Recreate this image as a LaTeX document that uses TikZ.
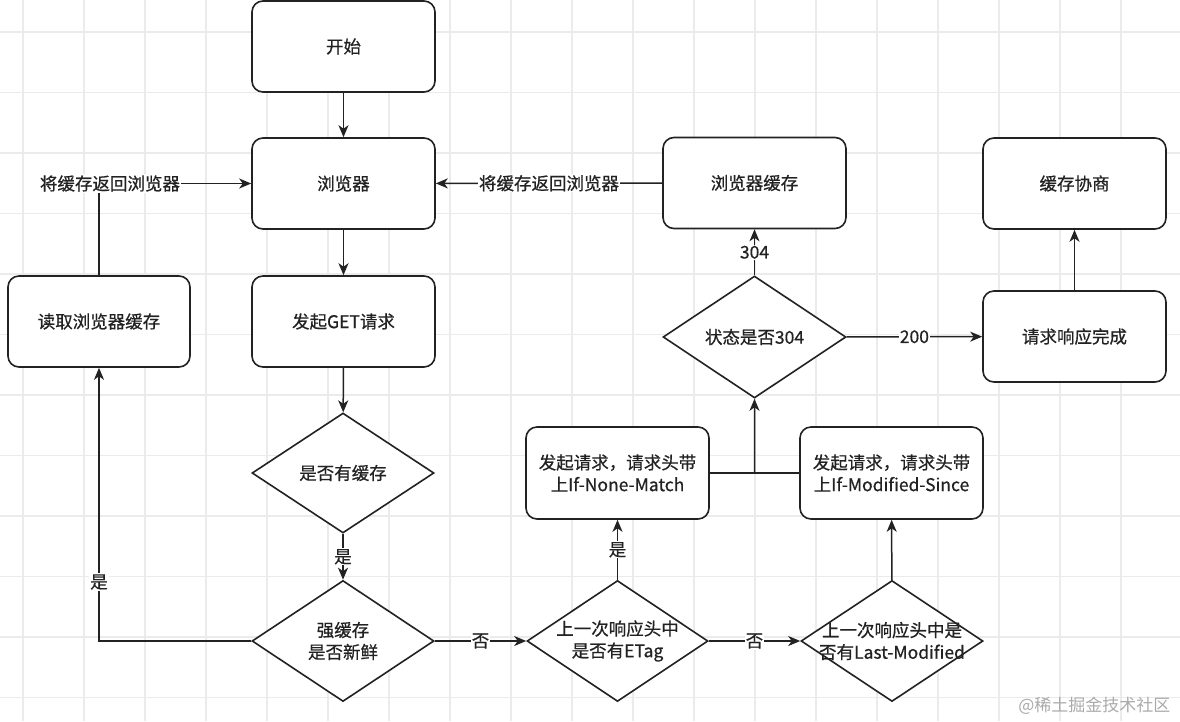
\documentclass[tikz,border=0pt]{standalone}
\usepackage{fontspec}
\setmainfont{Noto Sans CJK SC}[FakeBold=0.6]
\newfontfamily\wmfont{Noto Sans CJK SC}
\usetikzlibrary{arrows.meta,shapes.geometric,calc}
\definecolor{ink}{HTML}{222222}
\definecolor{gridc}{HTML}{EBEBEB}
\definecolor{wm}{HTML}{AAAAAA}
\begin{document}
\begin{tikzpicture}[x=1pt,y=-1pt,
  every node/.style={font=\fontsize{17.5}{22}\selectfont, text=ink},
  rbox/.style={draw=ink, line width=1.6pt, rounded corners=11pt, minimum width=183pt, minimum height=91pt, align=center, fill=white},
  dia/.style={draw=ink, line width=1.6pt, diamond, minimum width=182pt, minimum height=121pt, inner sep=0pt, fill=white},
  dtext/.style={align=center},
  arr/.style={draw=ink, line width=1.5pt, -{Stealth[length=12pt,width=10pt,inset=3.5pt]}},
  ln/.style={draw=ink, line width=1.5pt},
  lbl/.style={fill=white, inner sep=1pt}]
\useasboundingbox (0,0) rectangle (1180,721);
\fill[white] (0,0) rectangle (1180,721);
\foreach \i in {0,...,19} \draw[gridc, line width=1.2pt] ({23+61*\i},0) -- ({23+61*\i},721);
\foreach \j in {0,...,11} \draw[gridc, line width=1.2pt] (0,{32+60.5*\j}) -- (1180,{32+60.5*\j});

% boxes
\node[rbox] (start) at (343.5,46.5) {开始};
\node[rbox] (browser) at (343.5,183.5) {浏览器};
\node[rbox] (bcache) at (754.5,183) {浏览器缓存};
\node[rbox] (nego) at (1074.5,183.5) {缓存协商};
\node[rbox] (done) at (1074.5,336.5) {请求响应完成};
\node[rbox, minimum width=182pt] (read) at (99,321.5) {读取浏览器缓存};
\node[rbox] (get) at (343.5,321.5) {发起GET请求};
\node[rbox, minimum height=92pt] (boxetag) at (617.5,473) {发起请求，请求头带\\上If-None-Match};
\node[rbox, minimum height=92pt] (boxims) at (891.5,473) {发起请求，请求头带\\上If-Modified-Since};

% diamonds
\node[dia, minimum width=183pt, minimum height=122pt] (d304) at (754.5,337) {};
\node[dtext] (t304) at (d304.center) {状态是否304};
\node[dia, minimum height=120pt] (dhas) at (343,473) {};
\node[dtext] (thas) at (dhas.center) {是否有缓存};
\node[dia] (dfresh) at (343,641) {};
\node[dtext] (tfresh) at (dfresh.center) {强缓存\\是否新鲜};
\node[dia, minimum width=181pt] (detag) at (617.5,641) {};
\node[dtext] (tetag) at (detag.center) {上一次响应头中\\是否有ETag};
\node[dia] (dlm) at (892,641) {};
\node[dtext] (tlm) at (dlm.center) {上一次响应头中是\\否有Last-Modified};

% connectors
\draw[arr] (start) -- (browser);
\draw[arr] (browser) -- (get);
\draw[arr] (get) -- (dhas);
\draw[arr] (dhas) -- node[lbl]{是} (dfresh);
\draw[arr] (dfresh.west) -| node[lbl, pos=0.608]{是} (read.south);
\draw[arr] (read.north) |- node[lbl, pos=0.536]{将缓存返回浏览器} (browser.west);
\draw[arr] (bcache) -- node[lbl]{将缓存返回浏览器} (browser);
\draw[arr] (dfresh) -- node[lbl]{否} (detag);
\draw[arr] (detag) -- node[lbl]{否} (dlm);
\draw[arr] (detag) -- node[lbl]{是} (boxetag);
\draw[arr] (dlm) -- (boxims);
\draw[ln] (boxetag.east) -- (boxims.west);
\coordinate (j) at ($(boxetag.east)!0.5!(boxims.west)$);
\draw[arr] (j) -- (d304.south);
\draw[arr] (d304) -- node[lbl]{200} (done);
\draw[arr] (d304) -- node[lbl]{304} (bcache);
\draw[arr] (done) -- (nego);

\node[anchor=east, text=wm, font=\wmfont\fontsize{17}{20}\selectfont] (wmark) at (1174,706) {@稀土掘金技术社区};
\end{tikzpicture}
\end{document}
